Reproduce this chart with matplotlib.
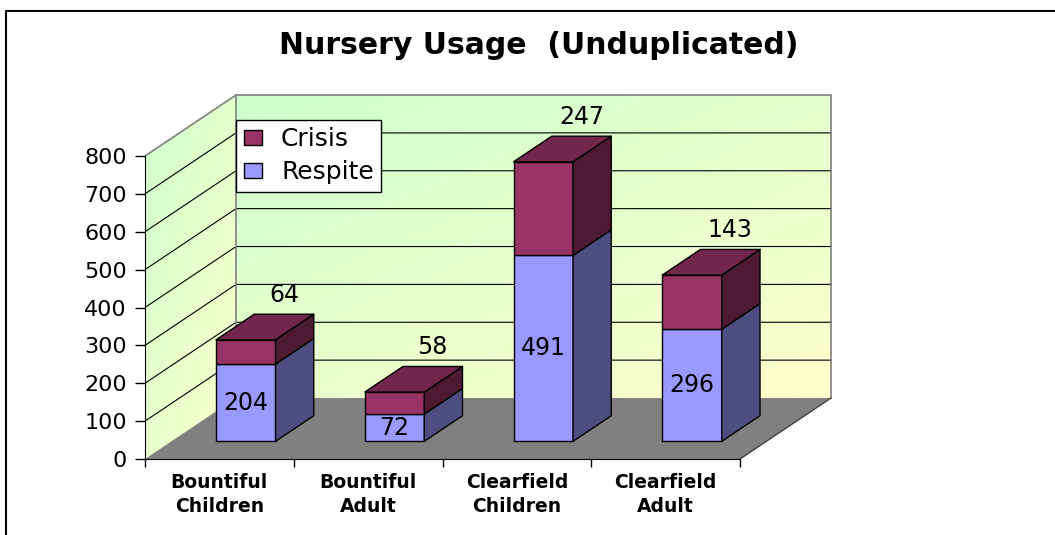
"""
Nursery usage chart, drawn as a pseudo-3D stacked column chart.
"""

import matplotlib

matplotlib.use("Agg")

import matplotlib.pyplot as plt
import numpy as np
from matplotlib.lines import Line2D
from matplotlib.patches import Patch, Polygon


# data
categories = [
    "Bountiful\nChildren",
    "Bountiful\nAdult",
    "Clearfield\nChildren",
    "Clearfield\nAdult",
]
respite = [204, 72, 491, 296]
crisis = [64, 58, 247, 143]
y_ticks = [0, 100, 200, 300, 400, 500, 600, 700, 800]

# style
RESPITE_FRONT = "#9999FF"
RESPITE_SIDE = "#4D4D80"
CRISIS_FRONT = "#993366"
CRISIS_TOP = "#73264D"
CRISIS_SIDE = "#4D1A33"
FLOOR = "#808080"
WALL_GREEN = np.array([204, 255, 204]) / 255
WALL_YELLOW = np.array([255, 255, 204]) / 255

# oblique depth offset (data units) and bar geometry
DX = 0.612
DY = 161
HALF_W = 0.2
D_FRONT = 0.29
D_BACK = 0.71
Y_MAX = 800


def proj(x, y, d):
    return (x + d * DX, y + d * DY)


def gradient_wall(ax, verts):
    verts = np.asarray(verts, dtype=float)
    x0, x1 = verts[:, 0].min(), verts[:, 0].max()
    y0, y1 = verts[:, 1].min(), verts[:, 1].max()

    u = np.linspace(0, 1, 200)
    v = np.linspace(0, 1, 200)
    uu, vv = np.meshgrid(u, v)
    # green top-left, yellow bottom-right (row 0 is the top)
    t = np.clip(0.45 * uu + 0.55 * vv, 0, 1)[..., None]
    img = WALL_GREEN * (1 - t) + WALL_YELLOW * t

    im = ax.imshow(
        img,
        extent=(x0, x1, y0, y1),
        origin="upper",
        aspect="auto",
        interpolation="bilinear",
        zorder=0,
    )
    clip = Polygon(verts, closed=True, facecolor="none", edgecolor="none")
    ax.add_patch(clip)
    im.set_clip_path(clip)


def face(ax, pts, color, z):
    ax.add_patch(
        Polygon(
            pts,
            closed=True,
            facecolor=color,
            edgecolor="black",
            linewidth=1.0,
            joinstyle="round",
            zorder=z,
        )
    )


def draw_segment(ax, cx, y0, y1, front, side, top=None, z=3):
    xl, xr = cx - HALF_W, cx + HALF_W
    face(ax, [proj(xl, y0, D_FRONT), proj(xr, y0, D_FRONT),
              proj(xr, y1, D_FRONT), proj(xl, y1, D_FRONT)], front, z)
    face(ax, [proj(xr, y0, D_FRONT), proj(xr, y0, D_BACK),
              proj(xr, y1, D_BACK), proj(xr, y1, D_FRONT)], side, z)
    if top is not None:
        face(ax, [proj(xl, y1, D_FRONT), proj(xr, y1, D_FRONT),
                  proj(xr, y1, D_BACK), proj(xl, y1, D_BACK)], top, z)


fig = plt.figure(figsize=(10.55, 5.35), dpi=100)
plt.rcParams["font.family"] = ["DejaVu Sans"]

# front plane: x=-0.5 at 145 px, 148.75 px per category; y=0 at 459 px
px_cat = 148.75
px_unit = 0.37875
x_span = 4.8
ax = fig.add_axes([
    145 / 1055,
    76 / 535,
    x_span * px_cat / 1055,
    1000 * px_unit / 535,
])
ax.set_facecolor("none")

n = len(categories)
x = np.arange(n)
x_left, x_right = -0.5, n - 0.5

# walls
side_wall = [proj(x_left, 0, 0), proj(x_left, 0, 1),
             proj(x_left, Y_MAX, 1), proj(x_left, Y_MAX, 0)]
back_wall = [proj(x_left, 0, 1), proj(x_right, 0, 1),
             proj(x_right, Y_MAX, 1), proj(x_left, Y_MAX, 1)]
gradient_wall(ax, side_wall)
gradient_wall(ax, back_wall)

# gridlines
for v in y_ticks[1:-1]:
    gx, gy = zip(proj(x_left, v, 0), proj(x_left, v, 1), proj(x_right, v, 1))
    ax.plot(gx, gy, color="black", linewidth=0.8, zorder=1)

# wall outlines
ox, oy = zip(proj(x_left, Y_MAX, 0), proj(x_left, Y_MAX, 1),
             proj(x_right, Y_MAX, 1), proj(x_right, 0, 1))
ax.plot(ox, oy, color="#808080", linewidth=1.2, zorder=1.5)
ox, oy = zip(proj(x_left, Y_MAX, 1), proj(x_left, 0, 1))
ax.plot(ox, oy, color="#808080", linewidth=1.2, zorder=1.5)

# floor
floor = [proj(x_left, 0, 0), proj(x_right, 0, 0),
         proj(x_right, 0, 1), proj(x_left, 0, 1)]
ax.add_patch(Polygon(floor, closed=True, facecolor=FLOOR,
                     edgecolor="none", zorder=2))
fx, fy = zip(proj(x_right, 0, 0), proj(x_right, 0, 1))
ax.plot(fx, fy, color="#404040", linewidth=1.0, zorder=2.1)

# bars
for i in range(n):
    total = respite[i] + crisis[i]
    draw_segment(ax, x[i], 0, respite[i], RESPITE_FRONT, RESPITE_SIDE, z=3)
    draw_segment(ax, x[i], respite[i], total, CRISIS_FRONT, CRISIS_SIDE,
                 top=CRISIS_TOP, z=3)

    ax.annotate(
        str(respite[i]),
        xy=proj(x[i], respite[i] / 2, D_FRONT),
        ha="center",
        va="center",
        fontsize=17,
        zorder=5,
    )
    ax.annotate(
        str(crisis[i]),
        xy=proj(x[i], total, D_BACK),
        xytext=(0, 14),
        textcoords="offset points",
        ha="center",
        va="center",
        fontsize=17,
        zorder=5,
    )

# axes
ax.set_xlim(x_left, x_left + x_span)
ax.set_ylim(0, 1000)

for side in ("top", "right"):
    ax.spines[side].set_visible(False)
ax.spines["left"].set_bounds(0, Y_MAX)
ax.spines["bottom"].set_bounds(x_left, x_right)
ax.spines["left"].set_zorder(4)
ax.spines["bottom"].set_zorder(4)

ax.set_yticks(y_ticks)
ax.tick_params(axis="y", length=7, width=1, pad=6, labelsize=16)

ax.set_xticks(np.arange(x_left, x_right + 0.01, 1.0), labels=[""] * (n + 1))
ax.set_xticks(x, labels=categories, minor=True)
ax.tick_params(axis="x", which="major", length=6, width=1)
ax.tick_params(axis="x", which="minor", length=0, pad=10, labelsize=13.5)
for lbl in ax.get_xticklabels(minor=True):
    lbl.set_fontweight("bold")
    lbl.set_linespacing(1.35)

# legend
handles = [
    Patch(facecolor=CRISIS_FRONT, edgecolor="black", label="Crisis"),
    Patch(facecolor=RESPITE_FRONT, edgecolor="black", label="Respite"),
]
leg = ax.legend(
    handles=handles,
    loc="upper left",
    bbox_to_anchor=(236 / 1055, 1 - 120 / 535),
    bbox_transform=fig.transFigure,
    borderaxespad=0,
    fontsize=18,
    frameon=True,
    fancybox=False,
    framealpha=1,
    edgecolor="black",
    borderpad=0.3,
    labelspacing=0.35,
    handlelength=0.75,
    handleheight=0.55,
    handletextpad=0.75,
)
leg.get_frame().set_linewidth(1.0)
leg.set_zorder(10)

# title
fig.text(
    539 / 1055,
    1 - 54 / 535,
    "Nursery Usage  (Unduplicated)",
    ha="center",
    va="baseline",
    fontsize=21.5,
    fontweight="bold",
)

# outer chart border (top and left edges only are visible)
fig.add_artist(
    Line2D(
        [6 / 1055, 6 / 1055, 1],
        [0, 1 - 10.5 / 535, 1 - 10.5 / 535],
        transform=fig.transFigure,
        color="black",
        linewidth=1.5,
    )
)

fig.savefig("out.png", dpi=100)
